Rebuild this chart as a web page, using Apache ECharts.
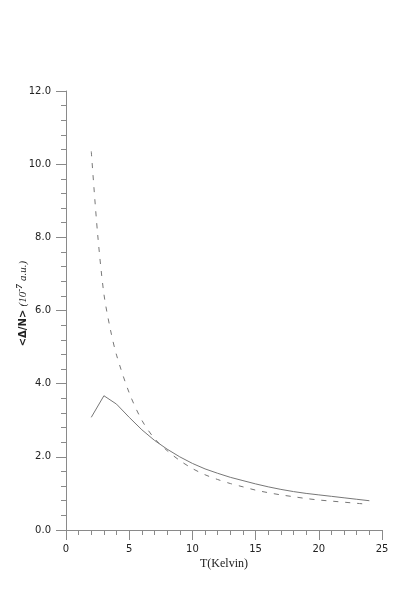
<!DOCTYPE html>
<html>
<head>
<meta charset="utf-8">
<script src="https://cdn.jsdelivr.net/npm/echarts@6/dist/echarts.min.js"></script>
<style>
  html, body { margin: 0; padding: 0; background: #fff; }
  #main { width: 419px; height: 601px; }
</style>
</head>
<body>
<div id="main"></div>
<script>
// 温度 T (Kelvin)
const solidT = [2, 3, 4, 5, 6, 7, 8, 9, 10, 11, 12, 13, 14, 15, 16, 17, 18, 19, 20, 21, 22, 23, 24];
const solidValues = [3.08, 3.67, 3.44, 3.08, 2.74, 2.45, 2.21, 2.0, 1.82, 1.67, 1.55, 1.44, 1.35, 1.26, 1.18, 1.11, 1.05, 1.0, 0.96, 0.92, 0.88, 0.84, 0.80];
const dashedT = [2, 2.5, 3, 3.5, 4, 5, 6, 7, 8, 9, 10, 11, 12, 13, 14, 15, 16, 17, 18, 19, 20, 21, 22, 23, 24];
const dashedValues = [10.35, 8.1, 6.45, 5.5, 4.78, 3.75, 3.0, 2.5, 2.17, 1.9, 1.68, 1.51, 1.38, 1.27, 1.18, 1.09, 1.02, 0.96, 0.91, 0.86, 0.82, 0.79, 0.76, 0.73, 0.70];

const xTicks = { min: 0, max: 25, interval: 5 };
const yTicks = { min: 0, max: 12, interval: 2 };

function pairs(xs, ys) {
  return xs.map((x, i) => [x, ys[i]]);
}

const myChart = echarts.init(document.getElementById("main"));
const axisColor = "#8a8a8a";
const option = {
  animation: false,
  backgroundColor: "#fff",
  grid: { left: 66, right: 37, top: 91, bottom: 71, containLabel: false, outerBoundsMode: "none" },
  xAxis: {
    type: "value",
    min: xTicks.min,
    max: xTicks.max,
    interval: xTicks.interval,
    name: "T(Kelvin)",
    nameLocation: "middle",
    nameGap: 28,
    nameMoveOverlap: false,
    nameTextStyle: { fontFamily: "Liberation Serif", fontSize: 12, color: "#222", verticalAlign: "top" },
    axisLine: { lineStyle: { color: axisColor, width: 1 } },
    axisTick: { length: 10, lineStyle: { color: axisColor } },
    minorTick: { show: true, splitNumber: 5, length: 5, lineStyle: { color: axisColor } },
    splitLine: { show: false },
    axisLabel: { margin: 14, fontFamily: "DejaVu Sans", fontSize: 10, color: "#222" }
  },
  yAxis: {
    type: "value",
    min: yTicks.min,
    max: yTicks.max,
    interval: yTicks.interval,
    name: "{b|<Δ/N>} {i|(10}{s|-7} {i|a.u.)}",
    nameLocation: "middle",
    nameGap: 35,
    nameRotate: 90,
    nameMoveOverlap: false,
    nameTextStyle: {
      color: "#222",
      padding: [0, 0, 0, 14],
      rich: {
        b: { fontFamily: "DejaVu Sans", fontWeight: "bold", fontSize: 10, color: "#222" },
        i: { fontFamily: "Liberation Serif", fontStyle: "italic", fontSize: 11, color: "#222" },
        s: { fontFamily: "Liberation Serif", fontStyle: "italic", fontWeight: "bold", fontSize: 9, color: "#222", padding: [0, 0, 7, 0] }
      }
    },
    axisLine: { show: true, lineStyle: { color: axisColor, width: 1 } },
    axisTick: { show: true, length: 10, lineStyle: { color: axisColor } },
    minorTick: { show: true, splitNumber: 5, length: 5, lineStyle: { color: axisColor } },
    splitLine: { show: false },
    axisLabel: {
      margin: 15,
      fontFamily: "DejaVu Sans",
      fontSize: 10,
      color: "#222",
      formatter: v => v.toFixed(1)
    }
  },
  series: [
    {
      type: "line",
      data: pairs(solidT, solidValues),
      symbol: "none",
      smooth: false,
      lineStyle: { color: "#777", width: 1, type: "solid" }
    },
    {
      type: "line",
      data: pairs(dashedT, dashedValues),
      symbol: "none",
      smooth: 0.3,
      lineStyle: { color: "#777", width: 1, type: [5, 7] }
    }
  ]
};
myChart.setOption(option);
</script>
</body>
</html>
